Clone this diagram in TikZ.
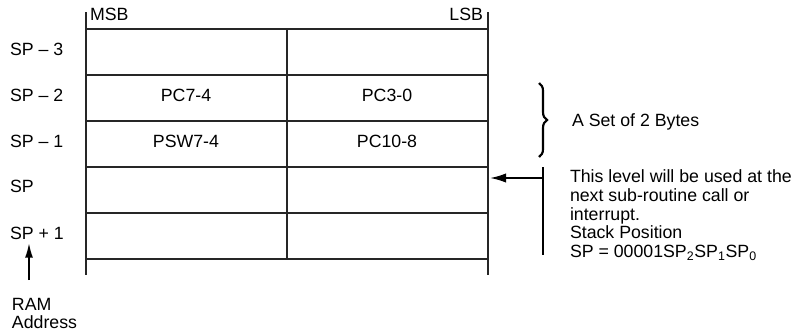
\documentclass[tikz,border=0pt]{standalone}
\usepackage{fontspec}
\setmainfont{Liberation Sans}
\usetikzlibrary{arrows.meta,decorations.pathreplacing}
\begin{document}
\begin{tikzpicture}[x=.75pt,y=-.75pt,
  txt/.style={inner sep=0pt,outer sep=0pt,anchor=base west,font=\fontsize{13.3}{14}\selectfont},
  celltxt/.style={inner sep=0pt,outer sep=0pt,anchor=base,font=\fontsize{13.3}{14}\selectfont},
  gridline/.style={draw=black!85,line width=0.8pt},
  thickline/.style={draw=black,line width=1.4pt}]
\path[use as bounding box] (0,0) rectangle (809,332);
% stack frame
\draw[gridline] (86,12) -- (86,275);
\draw[gridline] (488,12) -- (488,275);
\draw[gridline] (287,29) -- (287,259);
\draw[gridline] (86,29) -- (488,29);
\draw[gridline] (86,75) -- (488,75);
\draw[gridline] (86,121) -- (488,121);
\draw[gridline] (86,167) -- (488,167);
\draw[gridline] (86,213) -- (488,213);
\draw[gridline] (86,259) -- (488,259);
\node[txt] (msb) at (90,20) {MSB};
\node[txt,anchor=base east] (lsb) at (483,20) {LSB};
% addresses
\node[txt] (sp3) at (10,55) {SP -- 3};
\node[txt] (sp2) at (10,101) {SP -- 2};
\node[txt] (sp1) at (10,147) {SP -- 1};
\node[txt] (sp0) at (10,192) {SP};
\node[txt] (spp1) at (10,239) {SP + 1};
\node[txt] (ram) at (12,310) {RAM};
\node[txt] (addr) at (12,328) {Address};
% cell contents
\node[celltxt] (pc74) at (186,101) {PC7-4};
\node[celltxt] (pc30) at (387,101) {PC3-0};
\node[celltxt] (psw74) at (186,147) {PSW7-4};
\node[celltxt] (pc108) at (387,147) {PC10-8};
% ram address arrow
\coordinate (ramtail) at (29,280);
\coordinate (ramhead) at (29,243);
\draw[thickline,-{Latex[length=11pt,width=6pt]}] (ramtail) -- (ramhead);
% brace
\draw[thickline,line width=1.6pt,decorate,decoration={brace,amplitude=6pt}] (539,83) -- (539,157);
\node[txt] (setlbl) at (572,126) {A Set of 2 Bytes};
% level marker
\coordinate (bartop) at (543,167);
\coordinate (barbot) at (543,255);
\coordinate (barmid) at (543,178);
\coordinate (sptip) at (490,178);
\draw[thickline] (bartop) -- (barbot);
\draw[thickline,-{Latex[length=12pt,width=7pt]}] (barmid) -- (sptip);
\node[txt,anchor=north west,align=left] (lvltxt) at (570,170)
  {This level will be used at the\\next sub-routine call or\\interrupt.\\Stack Position\\SP = 00001SP\textsubscript{2}SP\textsubscript{1}SP\textsubscript{0}};
\end{tikzpicture}
\end{document}
